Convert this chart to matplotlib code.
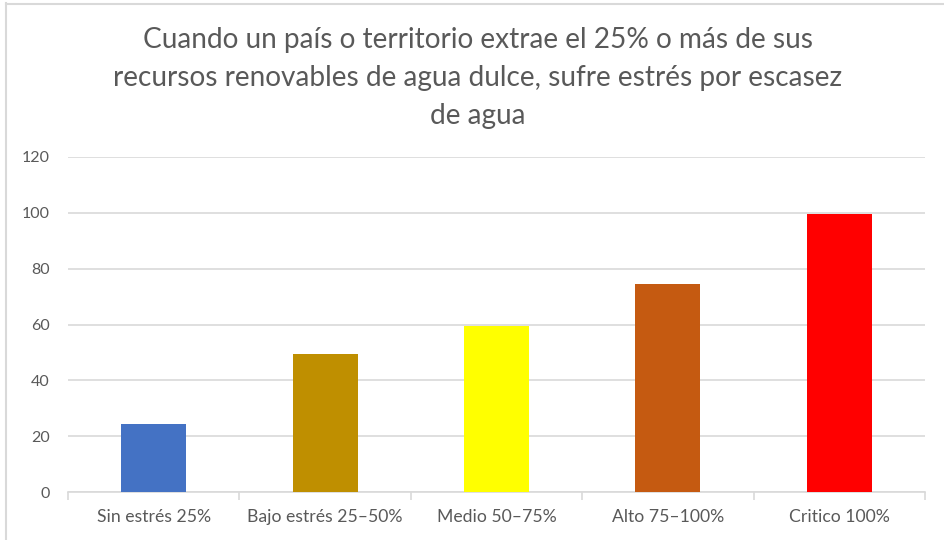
import matplotlib.pyplot as plt
import numpy as np

categorias = ["Sin estrés 25%", "Bajo estrés 25–50%", "Medio 50–75%", "Alto 75–100%", "Critico 100%"]
valores = [24.5, 49.5, 59.5, 74.5, 99.5]
colores = ["#4472c4", "#bf8f00", "#ffff00", "#c55a11", "#ff0000"]
titulo = ("Cuando un país o territorio extrae el 25% o más de sus\n"
          "recursos renovables de agua dulce, sufre estrés por escasez\n"
          "de agua")

plt.rcParams['font.family'] = ['Lato', 'DejaVu Sans']
gris = '#595959'

fig = plt.figure(figsize=(9.45, 5.4), dpi=100)
ax = fig.add_axes([68/945, 1-492/540, (925-68)/945, (492-157)/540])

x = np.arange(len(categorias))
ax.bar(x, valores, width=0.38, color=colores, zorder=3)
ax.set_xlim(-0.5, len(categorias)-0.5)
ax.set_ylim(0, 120)
ax.set_yticks(range(0, 121, 20))
ax.grid(axis='y', color='#d9d9d9', linewidth=1.2, zorder=0)

ax.set_xticks(x)
ax.set_xticklabels(categorias)
ax.set_xticks(np.arange(-0.5, len(categorias), 1), minor=True)
ax.tick_params(axis='x', which='major', length=0, pad=12, labelsize=12.7, labelcolor=gris)
ax.tick_params(axis='x', which='minor', length=6, color='#d9d9d9', width=1.2)
ax.tick_params(axis='y', length=0, pad=13, labelsize=11.5, labelcolor=gris)

for s in ['top', 'right', 'left']:
    ax.spines[s].set_visible(False)
ax.spines['bottom'].set_color('#d9d9d9')
ax.spines['bottom'].set_linewidth(1.2)

fig.text(478/945, 1-78/540, titulo, ha='center', va='center', fontsize=20.2,
         color=gris, linespacing=1.55)

# marco del gráfico
fig.add_artist(plt.Line2D([6/945, 6/945], [0, 1-3/540], color='#d9d9d9', linewidth=1.5))
fig.add_artist(plt.Line2D([6/945, 1], [1-3.5/540, 1-3.5/540], color='#d9d9d9', linewidth=1.5))

fig.savefig('out.png', dpi=100)
